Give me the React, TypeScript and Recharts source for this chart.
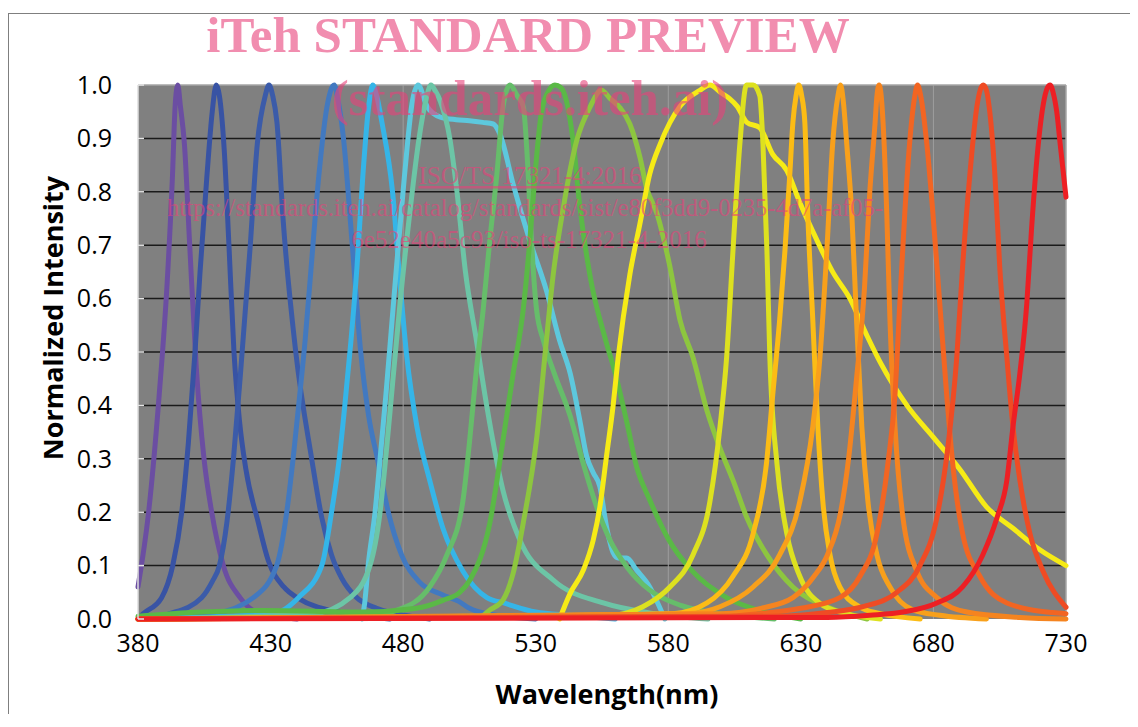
import React from 'react';
import { LineChart, Line, XAxis, YAxis, CartesianGrid, ReferenceLine } from 'recharts';

// axis ticks
const wavelengthTicks = [380, 430, 480, 530, 580, 630, 680, 730];
const intensityTicks = [0, 0.1, 0.2, 0.3, 0.4, 0.5, 0.6, 0.7, 0.8, 0.9, 1.0];
const gridLevels = [0.1, 0.2, 0.3, 0.4, 0.5, 0.6, 0.7, 0.8, 0.9];
const minorGridNm = [480, 580, 680];

// channel spectra, wavelength (nm) / normalized intensity
const violetNm = [380, 384, 388, 391, 393, 394, 395, 396, 397.5, 399.5, 402, 404.9, 407.8, 412.2, 418.5, 426, 440];
const violetVal = [0.06, 0.2, 0.42, 0.63, 0.83, 0.96, 1.0, 0.96, 0.89, 0.7, 0.47, 0.3, 0.2, 0.1, 0.04, 0.01, 0];

const navyNm = [380, 382, 388.9, 393.1, 396.5, 399, 401.5, 403.4, 406, 408, 409.5, 410.7, 412.5, 414.3, 416.2, 418.3, 420.7, 425.4, 429.1, 435, 440, 458.7, 475];
const navyVal = [0, 0.01, 0.04, 0.1, 0.2, 0.33, 0.5, 0.65, 0.83, 0.95, 1.0, 0.98, 0.88, 0.7, 0.5, 0.37, 0.28, 0.18, 0.11, 0.06, 0.04, 0.01, 0];

const blueNm = [380, 392, 404, 408, 410.7, 413.5, 416, 418.5, 420.5, 422.2, 425, 428, 429.4, 430.8, 432.4, 434.7, 439.5, 445.5, 449.3, 453, 457, 462.5, 470, 477.5, 490];
const blueVal = [0, 0.01, 0.04, 0.07, 0.1, 0.18, 0.3, 0.45, 0.58, 0.69, 0.89, 0.98, 1.0, 0.98, 0.93, 0.75, 0.5, 0.3, 0.19, 0.12, 0.075, 0.04, 0.02, 0.01, 0];

const steelNm = [380, 408.4, 423.5, 432.3, 436.1, 438.5, 441, 443, 445, 448.2, 451.3, 454, 455.5, 457.5, 460.5, 464, 467, 470.3, 474.4, 479.4, 486, 495, 501, 505, 515, 530];
const steelVal = [0, 0.01, 0.04, 0.1, 0.2, 0.3, 0.42, 0.52, 0.64, 0.83, 0.96, 1.0, 0.97, 0.9, 0.72, 0.5, 0.38, 0.3, 0.2, 0.12, 0.07, 0.045, 0.033, 0.02, 0.007, 0];

const skyNm = [380, 431, 440.5, 449.3, 453, 455.9, 458, 460.3, 462.6, 464.8, 467, 468.5, 470, 472, 476, 478.8, 481.4, 485.2, 490, 495, 502.5, 511.6, 518, 530, 543, 560];
const skyVal = [0, 0.01, 0.04, 0.1, 0.2, 0.3, 0.4, 0.52, 0.66, 0.83, 0.96, 1.0, 0.98, 0.93, 0.8, 0.63, 0.49, 0.36, 0.26, 0.17, 0.09, 0.04, 0.03, 0.013, 0.007, 0];

const cyanNm = [464.5, 465.5, 466.8, 469.4, 471.3, 473.5, 477, 480.5, 483.5, 485.6, 489, 494, 500, 505, 510, 514, 516.5, 521.5, 527.8, 534.1, 539.1, 543, 546.7, 549.2, 551.7, 554.2, 556.7, 559.2, 561.1, 564.3, 568, 573, 576, 578.7];
const cyanVal = [0, 0.03, 0.1, 0.2, 0.3, 0.42, 0.63, 0.83, 0.97, 1.0, 0.96, 0.94, 0.935, 0.933, 0.93, 0.927, 0.908, 0.814, 0.708, 0.614, 0.52, 0.46, 0.37, 0.305, 0.274, 0.248, 0.173, 0.124, 0.114, 0.114, 0.092, 0.06, 0.03, 0];

const tealNm = [380, 446.1, 460, 467.5, 471.3, 473.4, 476, 479, 482.5, 486, 488.5, 490.5, 492, 494, 497.6, 500.3, 503.5, 507.7, 511.5, 517.7, 524, 536.6, 555.5, 575, 595];
const tealVal = [0, 0.01, 0.04, 0.1, 0.2, 0.3, 0.44, 0.6, 0.76, 0.9, 0.97, 1.0, 0.99, 0.97, 0.9, 0.8, 0.65, 0.52, 0.4, 0.24, 0.148, 0.073, 0.03, 0.01, 0];

const greenNm = [380, 465, 478, 490, 496.5, 502.5, 505, 507.5, 510.2, 512.7, 515.3, 517.7, 520.3, 523, 525.3, 527.2, 528.4, 530.3, 533, 537, 543, 548, 553, 558, 564.3, 573, 585, 600, 620];
const greenVal = [0, 0.005, 0.017, 0.06, 0.12, 0.22, 0.33, 0.46, 0.58, 0.71, 0.83, 0.96, 1.0, 0.98, 0.96, 0.83, 0.71, 0.58, 0.52, 0.46, 0.38, 0.29, 0.21, 0.148, 0.098, 0.054, 0.025, 0.01, 0];

const leafNm = [380, 400, 427, 465, 485, 495, 501.4, 505.2, 512.7, 517.7, 521.5, 525.3, 527.8, 529.7, 532.2, 535, 537.2, 539.5, 541.6, 544.1, 546.7, 550.4, 556.5, 560, 564.3, 568, 573, 580, 589, 602, 615, 630];
const leafVal = [0.005, 0.012, 0.016, 0.013, 0.02, 0.035, 0.05, 0.073, 0.18, 0.336, 0.46, 0.58, 0.71, 0.83, 0.95, 0.99, 1.0, 0.995, 0.97, 0.895, 0.77, 0.645, 0.52, 0.46, 0.37, 0.286, 0.223, 0.15, 0.09, 0.04, 0.015, 0];

const limeNm = [380, 509, 512.7, 517.7, 521.5, 525.3, 530.3, 534, 536.6, 540.4, 545.4, 550.4, 554.8, 558, 561.7, 565.5, 569.3, 571.8, 575.7, 580.6, 584.4, 589.3, 594.6, 599.5, 604.4, 609.6, 617.2, 627, 639.8, 655];
const limeVal = [0, 0.004, 0.017, 0.036, 0.086, 0.18, 0.336, 0.52, 0.645, 0.77, 0.895, 0.958, 0.99, 0.975, 0.958, 0.927, 0.865, 0.808, 0.76, 0.66, 0.56, 0.49, 0.39, 0.32, 0.26, 0.19, 0.12, 0.06, 0.023, 0];

const yellowNm = [539, 543, 548, 551.7, 554.2, 556.7, 559.2, 561.1, 565.5, 569.3, 573, 577, 584.4, 591.9, 595.7, 600, 603, 606, 609.6, 614.5, 619.4, 624.7, 629.6, 636, 642, 648.5, 655, 660, 670, 680, 690, 700, 710, 720, 730];
const yellowVal = [0, 0.048, 0.092, 0.148, 0.21, 0.305, 0.4, 0.49, 0.645, 0.74, 0.833, 0.89, 0.96, 0.99, 1.0, 0.985, 0.975, 0.96, 0.93, 0.92, 0.87, 0.84, 0.78, 0.71, 0.65, 0.6, 0.53, 0.48, 0.4, 0.34, 0.28, 0.21, 0.17, 0.13, 0.1];

const lemonNm = [380, 558, 570.4, 580.6, 589.3, 595.7, 599.5, 602, 604.4, 607, 609.5, 612, 614.5, 615.7, 617.2, 618.3, 621, 624.7, 629.6, 637, 647, 660];
const lemonVal = [0, 0.007, 0.023, 0.06, 0.12, 0.22, 0.36, 0.49, 0.69, 0.89, 1.0, 1.0, 0.98, 0.89, 0.69, 0.49, 0.29, 0.16, 0.08, 0.03, 0.01, 0];

const amberNm = [380, 581.7, 594.6, 604.4, 612, 617, 619.4, 622, 624, 625.8, 627, 628.2, 629.2, 630.3, 631.5, 632.6, 634.5, 636.4, 638.3, 641, 644.7, 652, 660, 675];
const amberVal = [0, 0.01, 0.03, 0.08, 0.16, 0.29, 0.42, 0.56, 0.69, 0.83, 0.93, 0.98, 1.0, 0.98, 0.93, 0.76, 0.56, 0.36, 0.22, 0.12, 0.06, 0.023, 0.01, 0];

const orangeNm = [380, 587, 599.5, 612, 622, 629.6, 634.5, 637.2, 639.8, 642, 644, 645, 646, 647.3, 649.2, 651, 653, 655.3, 658.7, 663.6, 672.2, 682.4, 700];
const orangeVal = [0, 0.01, 0.023, 0.06, 0.12, 0.22, 0.36, 0.49, 0.69, 0.89, 0.98, 1.0, 0.97, 0.89, 0.76, 0.56, 0.36, 0.22, 0.12, 0.06, 0.017, 0.007, 0];

const tangerineNm = [380, 600, 615, 627, 635, 640, 645, 648, 651, 654, 656, 658, 658.7, 659.5, 660.3, 661, 662.4, 663.6, 665.5, 668.5, 673.7, 681.3, 692.6, 712.6, 730];
const tangerineVal = [0, 0.01, 0.02, 0.04, 0.08, 0.12, 0.2, 0.3, 0.45, 0.62, 0.8, 0.93, 0.98, 1.0, 0.98, 0.93, 0.76, 0.56, 0.36, 0.19, 0.09, 0.04, 0.013, 0.003, 0];

const vermilionNm = [380, 600, 614.5, 630, 644.7, 652.3, 658.7, 662.8, 665.5, 667.3, 669.2, 671, 673, 674, 675.2, 677.5, 679.8, 682.4, 685, 687.3, 691, 697.5, 707.7, 725, 730];
const vermilionVal = [0, 0.005, 0.01, 0.02, 0.04, 0.08, 0.16, 0.29, 0.42, 0.59, 0.76, 0.89, 0.98, 1.0, 0.98, 0.89, 0.76, 0.59, 0.42, 0.29, 0.16, 0.08, 0.03, 0.012, 0.01];

const scarletNm = [380, 620, 640, 653.4, 666.2, 674.9, 681.3, 685.4, 688.8, 691, 693.7, 696.4, 697.6, 698.8, 700, 701, 703.2, 705, 707.7, 710, 712.6, 716.4, 721.3, 730];
const scarletVal = [0, 0.005, 0.012, 0.023, 0.05, 0.1, 0.19, 0.32, 0.49, 0.66, 0.83, 0.96, 0.99, 1.0, 0.99, 0.96, 0.83, 0.66, 0.49, 0.36, 0.26, 0.16, 0.09, 0.022];

const redNm = [380, 640, 656, 668.5, 681.3, 691, 698.6, 704, 707.7, 710, 712.6, 715.2, 717, 719, 721.3, 723, 724, 725.2, 726.5, 728, 730];
const redVal = [0, 0.003, 0.007, 0.013, 0.03, 0.06, 0.12, 0.19, 0.26, 0.36, 0.46, 0.59, 0.73, 0.86, 0.96, 0.995, 1.0, 0.985, 0.95, 0.88, 0.79];

const toPoints = (nm: number[], val: number[]) => nm.map((w, i) => ({ nm: w, v: val[i] }));

const channels = [
  { key: 'violet', color: '#6b4ea2', data: toPoints(violetNm, violetVal) },
  { key: 'navy', color: '#3853a4', data: toPoints(navyNm, navyVal) },
  { key: 'blue', color: '#3b5ba9', data: toPoints(blueNm, blueVal) },
  { key: 'steel', color: '#4279c0', data: toPoints(steelNm, steelVal) },
  { key: 'sky', color: '#35b5e8', data: toPoints(skyNm, skyVal) },
  { key: 'cyan', color: '#5dc8dd', data: toPoints(cyanNm, cyanVal) },
  { key: 'teal', color: '#6cc5a6', data: toPoints(tealNm, tealVal) },
  { key: 'green', color: '#66bd6a', data: toPoints(greenNm, greenVal) },
  { key: 'leaf', color: '#5ab946', data: toPoints(leafNm, leafVal) },
  { key: 'lime', color: '#8dc63f', data: toPoints(limeNm, limeVal) },
  { key: 'yellow', color: '#f6eb16', data: toPoints(yellowNm, yellowVal) },
  { key: 'lemon', color: '#dde11f', data: toPoints(lemonNm, lemonVal) },
  { key: 'amber', color: '#fcbc15', data: toPoints(amberNm, amberVal) },
  { key: 'orange', color: '#f8a01b', data: toPoints(orangeNm, orangeVal) },
  { key: 'tangerine', color: '#f5841f', data: toPoints(tangerineNm, tangerineVal) },
  { key: 'vermilion', color: '#f26522', data: toPoints(vermilionNm, vermilionVal) },
  { key: 'scarlet', color: '#ef4b24', data: toPoints(scarletNm, scarletVal) },
  { key: 'red', color: '#ed1f24', data: toPoints(redNm, redVal) },
];

const tickFont = { fill: '#000', fontSize: 25, fontFamily: '"Open Sans", sans-serif' };
const titleFont = { fontSize: 27, fontWeight: 700, fontFamily: '"Open Sans", sans-serif', fill: '#000' };
const markFont = { fontFamily: '"Liberation Serif", "Times New Roman", serif', fill: '#e8417a', fillOpacity: 0.6 };

export default function App() {
  return (
    <div
      style={{
        position: 'relative',
        width: 1130,
        height: 701,
        marginTop: 5,
        boxSizing: 'border-box',
        borderTop: '1px solid #7f7f7f',
        borderLeft: '1px solid #7f7f7f',
        borderRight: '1px solid #7f7f7f',
      }}
    >
      <LineChart width={1120} height={700} margin={{ top: 71, right: 63, bottom: 0, left: 79 }}>
        <CartesianGrid fill="#808080" stroke="#1a1a1a" strokeWidth={1.5} horizontalValues={gridLevels} vertical={false} />
        <CartesianGrid stroke="#9d9d9d" horizontal={false} verticalValues={minorGridNm} />
        <ReferenceLine y={1} stroke="#a6a6a6" strokeWidth={1.5} />
        <ReferenceLine x={730} stroke="#a6a6a6" strokeWidth={1.5} />
        <XAxis
          dataKey="nm"
          type="number"
          domain={[380, 730]}
          ticks={wavelengthTicks}
          axisLine={false}
          tickLine={false}
          tickSize={0}
          tickMargin={15}
          height={95}
          tick={tickFont}
          interval={0}
        />
        <YAxis
          type="number"
          domain={[0, 1]}
          ticks={intensityTicks}
          tickFormatter={(v: number) => v.toFixed(1)}
          width={50}
          axisLine={{ stroke: '#dcdcdc', strokeWidth: 1.5 }}
          tickLine={{ stroke: '#e6e6e6', strokeWidth: 1.5 }}
          tickSize={-6}
          tickMargin={32}
          tick={tickFont}
          interval={0}
        />
        {channels.map((c) => (
          <Line
            key={c.key}
            data={c.data}
            dataKey="v"
            type="monotone"
            stroke={c.color}
            strokeWidth={5}
            strokeLinecap="round"
            strokeLinejoin="round"
            dot={false}
            activeDot={false}
            isAnimationActive={false}
          />
        ))}
      </LineChart>
      <svg
        width={1138}
        height={714}
        style={{ position: 'absolute', left: -9, top: -14, pointerEvents: 'none' }}
      >
        <text x={52} y={318} transform="rotate(-90 52 318)" textAnchor="middle" dominantBaseline="central" style={titleFont}>
          Normalized Intensity
        </text>
        <text x={607} y={704} textAnchor="middle" style={titleFont}>
          Wavelength(nm)
        </text>
        <text x={528} y={52} textAnchor="middle" fontSize={51} fontWeight={700} style={markFont}>
          iTeh STANDARD PREVIEW
        </text>
        <text x={530} y={115} textAnchor="middle" fontSize={51} fontWeight={700} style={markFont}>
          (standards.iteh.ai)
        </text>
        <text x={530} y={184} textAnchor="middle" fontSize={25} textDecoration="underline" style={markFont}>
          ISO/TS 17321-4:2016
        </text>
        <text x={525} y={216} textAnchor="middle" fontSize={24.5} style={markFont}>
          https://standards.iteh.ai/catalog/standards/sist/e80f3dd9-0235-4d7a-af05-
        </text>
        <text x={529} y={248} textAnchor="middle" fontSize={25} style={markFont}>
          6e52e40a5c93/iso-ts-17321-4-2016
        </text>
      </svg>
    </div>
  );
}
